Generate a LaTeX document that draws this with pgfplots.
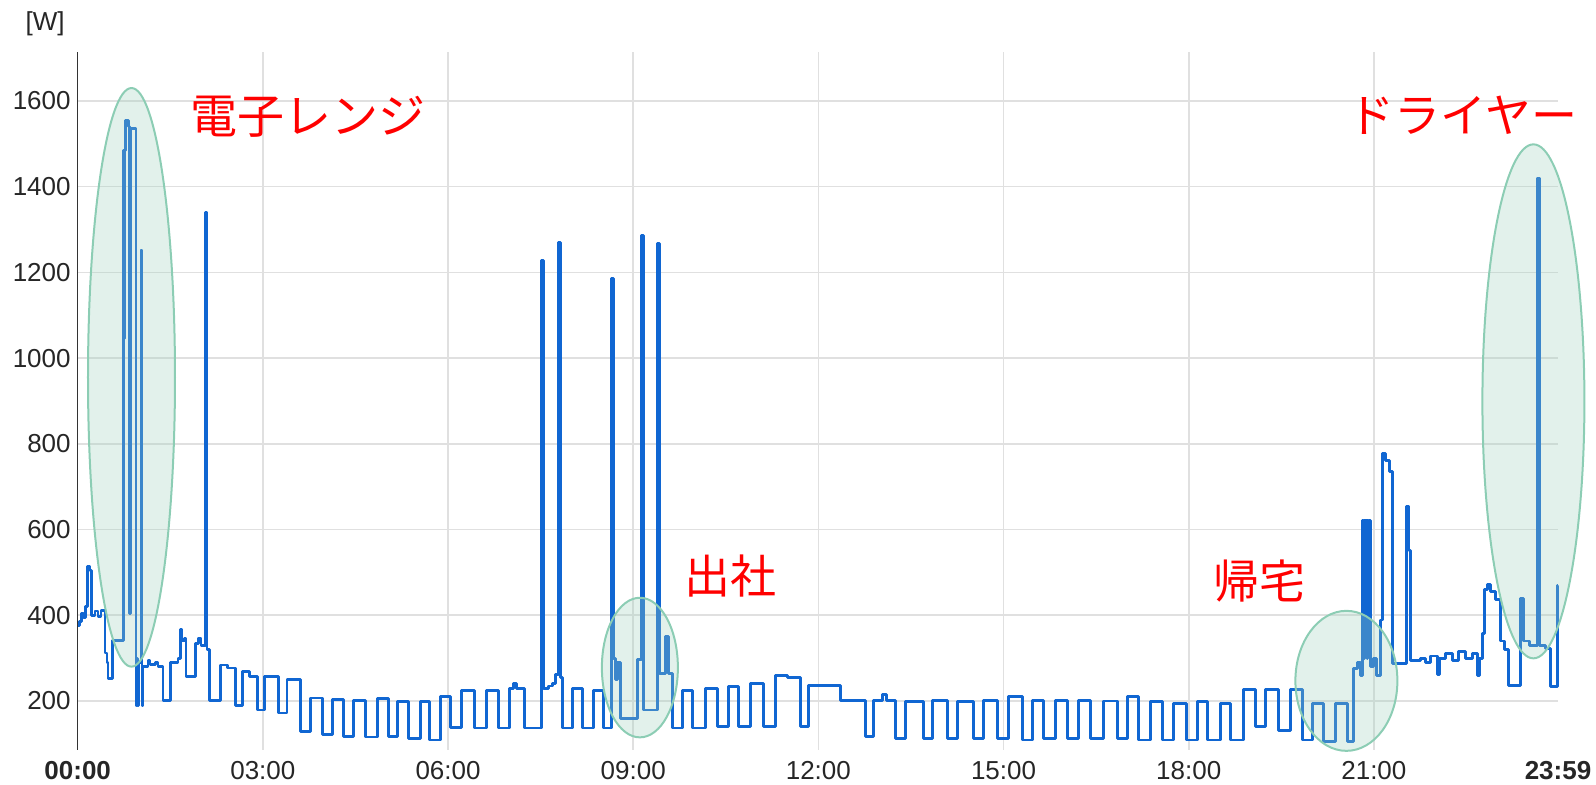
\documentclass[border=0pt]{standalone}
\usepackage{fontspec}
\setmainfont{Liberation Sans}
\newfontfamily\jp{Noto Sans CJK JP}
\usepackage{pgfplots}
\usepackage{pgfplotstable}
\pgfplotsset{compat=1.18}
\definecolor{trace}{RGB}{16,102,210}
\definecolor{ellfill}{RGB}{160,210,190}
\definecolor{elldraw}{RGB}{140,205,180}
\definecolor{gridgray}{RGB}{224,224,224}

% minutes after midnight, watts (level from that minute on)
\pgfplotstableread{
m w
0 377
2 385
4 405
6 395
8 420
9.5 513
12 505
13.6 400
16.8 410
19.7 398
22.7 412
26.5 312
28.5 290
29.5 253
34 342
44.3 1485
45.2 1046
45.8 1485
46.5 1554
49.5 1540
50.5 405
51.2 1536
56.7 190
57.5 300
58.5 190
59.5 290
61.5 1252
62.5 190
63.5 280
68.3 295
70.3 285
75.2 290
78.1 280
82.9 202
89.9 290
97.5 300
99.5 366
101.4 340
103.4 345
105.3 257
114.1 335
117 347
119.9 330
124.3 1340
125.7 320
127.7 202
138.4 284
146 277
153 190
159.8 268
167 258
174.4 179
181.2 258
194.8 172
203.5 250
216.2 128
225.9 207
237.6 121
247.3 203
258 117
267.7 202
279.4 116
291 205
301.7 117
310.5 198
321.2 113
332.9 198
341.6 109
352.3 210
362 138
372.7 224
385.4 137
397 224
408.7 137
419.4 230
423.3 240
426.2 230
434 137
450.5 1227
452.5 230
457.3 235
461.2 240
464.1 261
467.5 1269
469.5 255
470.9 137
480.7 230
490.4 137
501.1 225
510.8 137
519.3 1186
520.5 300
522.5 250
524.4 290
527.3 160
543.9 296
548.2 1285
549.7 179
563.3 265
564 1268
565.3 265
571.1 350
574 265
577.9 137
587.6 225
597.3 137
610 230
621.7 140
632.4 234
642.1 140
653.8 240
666.4 140
678.1 260
690 255
702.4 140
710.1 237
741.3 202
765.6 117
773.4 202
782.1 215
786 202
794.7 113
804.5 198
822 113
830.7 202
845.3 113
855 198
870.6 113
880.3 202
893.9 113
904.6 210
918.2 109
928 202
938.7 113
950.3 202
962 113
972.7 202
984.4 113
997 200
1010.6 113
1020.3 210
1031 109
1042.7 198
1054.4 109
1065.1 195
1077.7 109
1088.4 198
1098.1 109
1110.8 195
1120.5 109
1133.2 226
1144.8 140
1154.5 226
1167.2 132
1178.8 226
1190.5 109
1200.2 195
1210.9 105
1222.6 195
1234.3 105
1240.1 275
1244 290
1246.9 260
1248.9 622
1249.9 300
1250.6 622
1251.6 320
1252.3 622
1253.3 300
1254 622
1255 320
1255.7 622
1256.6 280
1259.6 300
1262.5 260
1266.4 389
1268.3 778
1271.2 760
1275.1 735
1278.1 288
1291.6 653
1294.1 552
1295.5 295
1305.3 300
1310.1 290
1315 305
1321.8 261
1323.7 300
1329.6 310
1336.4 295
1342.2 315
1349 300
1355.8 310
1360.7 260
1362.6 300
1365.5 358
1367.5 460
1370.4 472
1373.3 455
1378.2 436
1383 340
1386.9 320
1390.8 237
1402.5 440
1405.4 340
1411.2 330
1419 1420
1421 330
1426.8 322
1431.7 233
1438.5 470
1439 470
}\power

\begin{document}
\begin{tikzpicture}
\path[use as bounding box] (-38.85pt,-17.5pt) rectangle (759.15pt,375pt);
\begin{axis}[
  width=740.15pt, height=349pt, scale only axis,
  xmin=0, xmax=1439, ymin=85.7, ymax=1714,
  axis lines*=left,
  x axis line style={draw=none},
  y axis line style={draw=black!80, line width=0.75pt},
  major tick length=0pt,
  xtick={180,360,...,1260},
  xticklabels={03:00,06:00,09:00,12:00,15:00,18:00,21:00},
  extra x ticks={0,1439},
  extra x tick labels={\textbf{00:00},\textbf{23:59}},
  extra x tick style={grid=none},
  ytick={200,400,...,1600},
  grid=major,
  major grid style={draw=gridgray, line width=0.8pt},
  tick label style={font=\fontsize{13}{15}\selectfont, text=black!85},
  xticklabel style={yshift=-2pt},
  /pgf/number format/1000 sep={},
  /pgf/number format/assume math mode=true,
  clip=false,
]
\addplot[trace, line width=1.45pt, const plot mark left, line join=round, mark=none]
  table[x=m, y=w] {\power};

\draw[elldraw, fill=ellfill, fill opacity=0.3, line width=1pt]
  (axis cs:52.3,955) ellipse [x radius=21.75pt, y radius=144.65pt];
\draw[elldraw, fill=ellfill, fill opacity=0.3, line width=1pt]
  (axis cs:546.5,278) ellipse [x radius=19pt, y radius=34.9pt];
\draw[elldraw, fill=ellfill, fill opacity=0.3, line width=1pt]
  (axis cs:1233.3,247) ellipse [x radius=25.5pt, y radius=35pt];
\draw[elldraw, fill=ellfill, fill opacity=0.3, line width=1pt]
  (axis cs:1415.1,899) ellipse [x radius=25.5pt, y radius=128.5pt];

\node[text=red, font={\jp\fontsize{23.5}{27}\selectfont}] at (axis cs:224,1563) {電子レンジ};
\node[text=red, font={\jp\fontsize{23}{27}\selectfont}] at (axis cs:1346.6,1567) {ドライヤー};
\node[text=red, font={\jp\fontsize{23}{27}\selectfont}] at (axis cs:634.3,492) {出社};
\node[text=red, font={\jp\fontsize{23}{27}\selectfont}] at (axis cs:1149.2,480) {帰宅};
\node[anchor=east, xshift=-3pt, yshift=14pt, text=black!85, font=\fontsize{13}{15}\selectfont]
  at (rel axis cs:0,1) {[W]};
\end{axis}
\end{tikzpicture}
\end{document}
